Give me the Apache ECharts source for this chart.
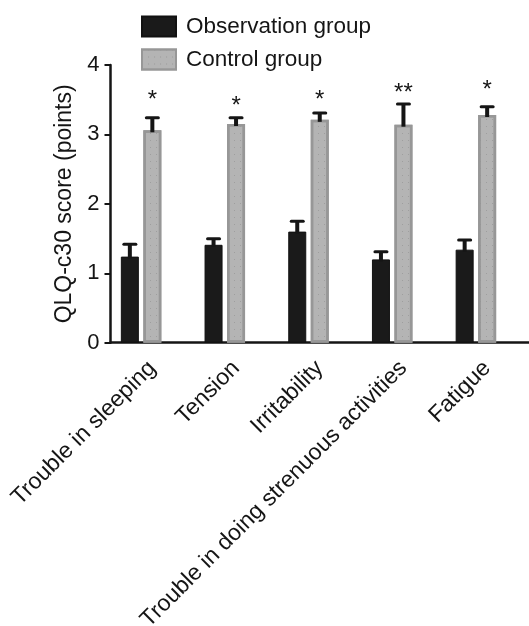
<!DOCTYPE html>
<html>
<head>
<meta charset="utf-8">
<script src="https://cdn.jsdelivr.net/npm/echarts@6/dist/echarts.min.js"></script>
<style>
html,body{margin:0;padding:0;background:#fff;}
#chart{width:529px;height:626px;}
</style>
</head>
<body>
<div id="chart"></div>
<script>
// ---- data ----
const categories = ['Trouble in sleeping', 'Tension', 'Irritability', 'Trouble in doing strenuous activities', 'Fatigue'];
const seriesNames = ['Observation group', 'Control group'];
const observation = [1.24, 1.41, 1.60, 1.20, 1.34];
const observationSD = [0.20, 0.11, 0.17, 0.13, 0.16];
const control = [3.06, 3.15, 3.21, 3.14, 3.28];
const controlSD = [0.20, 0.11, 0.12, 0.32, 0.14];
const sigMarks = ['*', '*', '*', '**', '*'];
const sigLevel = [3.58, 3.49, 3.58, 3.68, 3.72];
const yTicks = [0, 1, 2, 3, 4];

// ---- style ----
const FONT = '"Liberation Sans", Arial, Helvetica, sans-serif';
const INK = '#151515';
const BAR_W = 18;
const GAP_PCT = 0.25;
const OFFSET = BAR_W * (1 + GAP_PCT); // centre distance between adjacent bars

const chart = echarts.init(document.getElementById('chart'), null, {renderer: 'canvas'});

function errorSeries(name, values, sds, offset) {
  return {
    type: 'custom',
    name: name + ' SD',
    z: 5,
    silent: true,
    data: values.map((v, i) => [i, v, v + sds[i]]),
    encode: {x: 0, y: [1, 2]},
    renderItem: function (params, api) {
      const i = api.value(0);
      const base = api.coord([i, api.value(1)]);
      const top = api.coord([i, api.value(2)]);
      const x = base[0] + offset;
      return {
        type: 'group',
        children: [
          {type: 'line', shape: {x1: x, y1: base[1] + 2, x2: x, y2: top[1] + 1}, style: {stroke: INK, lineWidth: 4}},
          {type: 'line', shape: {x1: x - 6, y1: top[1] + 1.5, x2: x + 6, y2: top[1] + 1.5}, style: {stroke: INK, lineWidth: 3, lineCap: 'round'}}
        ]
      };
    }
  };
}

const option = {
  backgroundColor: '#ffffff',
  animation: false,
  textStyle: {fontFamily: FONT},
  legend: {
    orient: 'vertical',
    left: 136,
    top: 10,
    icon: 'rect',
    itemWidth: 34,
    itemHeight: 20,
    itemGap: 10,
    data: seriesNames,
    textStyle: {fontFamily: FONT, fontSize: 22.5, color: INK, padding: [0, 0, 0, 5]}
  },
  grid: {left: 110.5, right: 0, top: 65, bottom: 283.3, containLabel: false, outerBoundsMode: 'none'},
  xAxis: {
    type: 'category',
    data: categories,
    axisLine: {lineStyle: {color: INK, width: 2.5}},
    axisTick: {alignWithLabel: true, length: 5, lineStyle: {color: INK, width: 2}},
    axisLabel: {rotate: 45, interval: 0, margin: 22, fontFamily: FONT, fontSize: 23, color: INK}
  },
  yAxis: {
    type: 'value',
    min: yTicks[0],
    max: yTicks[yTicks.length - 1],
    interval: yTicks[1] - yTicks[0],
    name: 'QLQ-c30 score (points)',
    nameLocation: 'middle',
    nameGap: 33,
    nameTextStyle: {fontFamily: FONT, fontSize: 23, color: INK},
    splitLine: {show: false},
    axisLine: {show: true, lineStyle: {color: INK, width: 2.5}},
    axisTick: {show: true, length: 6, lineStyle: {color: INK, width: 2}},
    axisLabel: {margin: 11, fontFamily: FONT, fontSize: 22, color: INK}
  },
  series: [
    {
      name: seriesNames[0],
      type: 'bar',
      barWidth: BAR_W,
      barGap: (GAP_PCT * 100) + '%',
      data: observation,
      itemStyle: {color: '#1a1a1a', borderColor: '#111', borderWidth: 1}
    },
    {
      name: seriesNames[1],
      type: 'bar',
      barWidth: BAR_W,
      data: control,
      itemStyle: {
        color: '#b4b4b4',
        borderColor: '#979797',
        borderWidth: 2.5,
        decal: {symbol: 'rect', symbolSize: 1, color: 'rgba(140,140,140,0.55)', dashArrayX: [1, 5], dashArrayY: [1, 6], rotation: 0}
      }
    },
    {
      name: 'spacer',
      type: 'bar',
      barWidth: BAR_W,
      data: categories.map(() => null),
      itemStyle: {color: 'transparent'}
    },
    errorSeries(seriesNames[0], observation, observationSD, -OFFSET),
    errorSeries(seriesNames[1], control, controlSD, 0),
    {
      type: 'custom',
      name: 'significance',
      silent: true,
      z: 6,
      data: sigLevel.map((v, i) => [i, v]),
      encode: {x: 0, y: 1},
      renderItem: function (params, api) {
        const p = api.coord([api.value(0), api.value(1)]);
        return {
          type: 'text',
          style: {
            text: sigMarks[params.dataIndex],
            x: p[0], y: p[1] + 6,
            align: 'center', verticalAlign: 'middle',
            font: '24px ' + FONT,
            fill: INK
          }
        };
      }
    }
  ]
};
chart.setOption(option);
</script>
</body>
</html>
